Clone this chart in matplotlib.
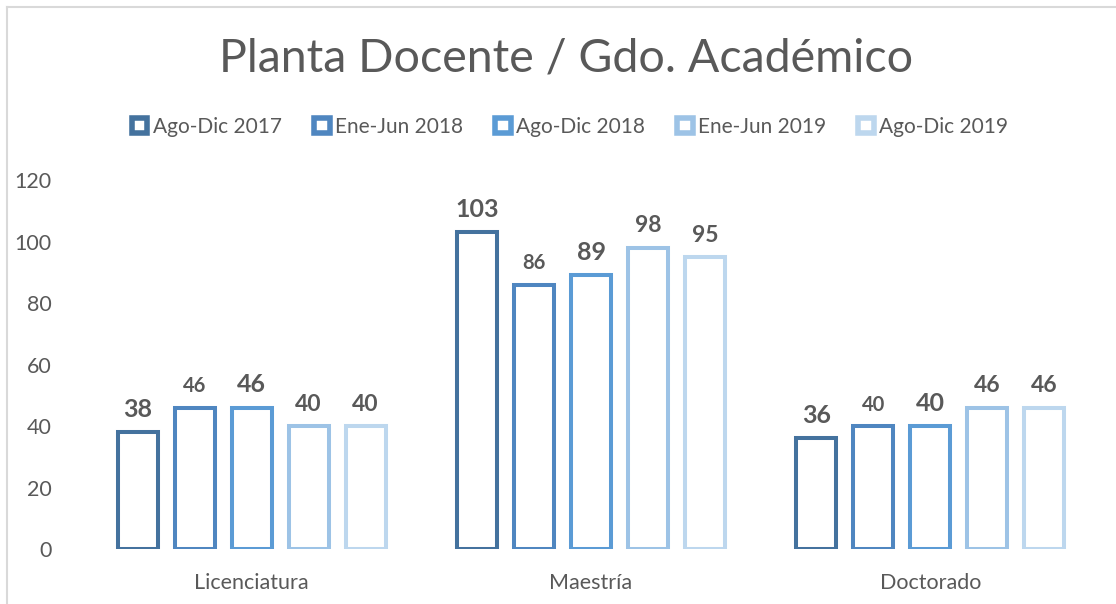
import matplotlib
matplotlib.use('agg')
import matplotlib.pyplot as plt
from matplotlib.patches import Rectangle
from matplotlib.lines import Line2D
import numpy as np

# Datos
categorias = ['Licenciatura', 'Maestría', 'Doctorado']
periodos = ['Ago-Dic 2017', 'Ene-Jun 2018', 'Ago-Dic 2018', 'Ene-Jun 2019', 'Ago-Dic 2019']
ago_dic_2017 = [38, 103, 36]
ene_jun_2018 = [46, 86, 40]
ago_dic_2018 = [46, 89, 40]
ene_jun_2019 = [40, 98, 46]
ago_dic_2019 = [40, 95, 46]
y_ticks = [0, 20, 40, 60, 80, 100, 120]

series = [ago_dic_2017, ene_jun_2018, ago_dic_2018, ene_jun_2019, ago_dic_2019]
colores = ['#44729E', '#4F86C0', '#5B9BD5', '#9DC3E6', '#BDD7EE']
# tamanos de etiqueta distintos por serie, como en el original
tam_etiqueta = [18, 14.5, 18, 16.5, 16.5]

gris = '#595959'
plt.rcParams['font.family'] = ['Lato', 'DejaVu Sans']

fig = plt.figure(figsize=(11.16, 6.04), dpi=100)
ax = fig.add_axes([82 / 1116, 1 - 549 / 604, 1018 / 1116, 369 / 604])

x = np.arange(len(categorias))
ancho = 0.118
paso = 0.168
lw = 2.9

for i, (vals, col) in enumerate(zip(series, colores)):
    pos = x + (i - 2) * paso
    ax.bar(pos, vals, width=ancho, facecolor='white', edgecolor=col, linewidth=lw)
    for px, v in zip(pos, vals):
        ax.annotate(str(v), (px, v), xytext=(0, 11), textcoords='offset points',
                    ha='center', va='baseline', fontsize=tam_etiqueta[i],
                    fontweight='bold', color=gris)

ax.set_xlim(-0.5, 2.5)
ax.set_ylim(0, 120)
ax.set_yticks(y_ticks)
ax.set_xticks(x)
ax.set_xticklabels(categorias)
ax.tick_params(axis='both', length=0, labelsize=15.5, labelcolor=gris)
ax.tick_params(axis='y', pad=22)
ax.tick_params(axis='x', pad=17)
for s in ax.spines.values():
    s.set_visible(False)

fig.text(566 / 1116, 1 - 58 / 604, 'Planta Docente / Gdo. Académico',
         ha='center', va='center', fontsize=33.5, color=gris)

handles = [Rectangle((0, 0), 1, 1, facecolor='white', edgecolor=c, linewidth=4) for c in colores]
fig.legend(handles, periodos, loc='center', bbox_to_anchor=(570 / 1116, 1 - 127 / 604),
           ncol=5, frameon=False, fontsize=15, labelcolor=gris,
           handlelength=0.75, handleheight=0.75, handletextpad=0.25, columnspacing=1.55)

# borde del area del grafico
fig.add_artist(Line2D([7 / 1116, 7 / 1116], [0, 1 - 7 / 604], color='#D9D9D9', linewidth=1.5))
fig.add_artist(Line2D([7 / 1116, 1], [1 - 7 / 604, 1 - 7 / 604], color='#D9D9D9', linewidth=1.5))

fig.savefig('out.png', dpi=100)
